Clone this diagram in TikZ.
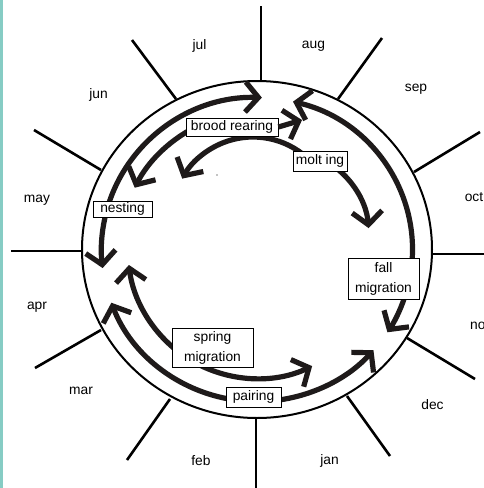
\documentclass[tikz,border=0pt]{standalone}
\usepackage{fontspec}
\setmainfont{Liberation Sans}
\usetikzlibrary{arrows.meta}
\definecolor{tealline}{RGB}{134,204,196}
\definecolor{ink}{RGB}{30,26,26}
\begin{document}
\begin{tikzpicture}[x=1pt,y=-1pt,
  spoke/.style={line width=2.6pt},
  arr/.style={draw=ink, line width=5.2pt, -{Straight Barb[length=13pt,width=30pt]}},
  lbl/.style={draw, line width=0.8pt, fill=white, inner sep=0pt, align=center,
    font=\fontsize{13.8}{20}\selectfont},
  month/.style={inner sep=0pt, font=\fontsize{13.8}{16}\selectfont}]
\useasboundingbox (0,0) rectangle (484,488);
\fill[tealline] (0,0) rectangle (2.6,488);
\coordinate (R) at (257,249.5);
\coordinate (Cc) at (253,218);
\coordinate (Cd) at (282,236);
% outer ring
\draw[line width=2pt] (R) ellipse [x radius=175, y radius=168.5];
% spokes
\draw[spoke] (261,6) -- (261,81);
\draw[spoke] (382,38) -- (338,99);
\draw[spoke] (480,132) -- (414,172);
\draw[spoke] (486,254) -- (432,254);
\draw[spoke] (475,379) -- (407,338);
\draw[spoke] (390,456) -- (347,396);
\draw[spoke] (256,490) -- (256,418);
\draw[spoke] (127,460) -- (170,399);
\draw[spoke] (35,368) -- (101,330);
\draw[spoke] (11,251) -- (82,251);
\draw[spoke] (34,130) -- (101,170);
\draw[spoke] (132,40) -- (176,99);
% arrows on the main ring
\draw[arr] ([shift={(-164:155.5 and 152)}]R) arc[start angle=-164, end angle=-88.2, x radius=155.5, y radius=152];
\draw[arr] ([shift={(-165:155.5 and 152)}]R) arc[start angle=-165, end angle=-187, x radius=155.5, y radius=152];
\draw[arr] ([shift={(5:155.5 and 152)}]R) arc[start angle=5, end angle=-76.6, x radius=155.5, y radius=152];
\draw[arr] ([shift={(16:155.5 and 152)}]R) arc[start angle=16, end angle=33, x radius=155.5, y radius=152];
\draw[arr] ([shift={(84:155.5 and 152)}]R) arc[start angle=84, end angle=41.5, x radius=155.5, y radius=152];
\draw[arr] ([shift={(-261:155.5 and 152)}]R) arc[start angle=-261, end angle=-200.5, x radius=155.5, y radius=152];
% inner arrows
\draw[arr] ([shift={(-243:129 and 129)}]R) arc[start angle=-243, end angle=-295.3, radius=129];
\draw[arr] ([shift={(-231:129 and 129)}]R) arc[start angle=-231, end angle=-186.9, radius=129];
\draw[arr] ([shift={(-118:137 and 137)}]R) arc[start angle=-118, end angle=-153.2, radius=137];
\draw[arr] ([shift={(-52:81 and 81)}]Cc) arc[start angle=-52, end angle=-150.9, radius=81];
\draw[arr] ([shift={(-60:87 and 87)}]Cd) arc[start angle=-60, end angle=-5.2, radius=87];
% speck
\fill (217,175) circle[radius=0.7];
% boxes
\node[lbl, minimum width=92pt, minimum height=18pt] (brood) at (232,127) {brood rearing};
\node[lbl, minimum width=54pt, minimum height=20pt] (molt) at (320,161) {molt ing};
\node[lbl, minimum width=71pt, minimum height=41pt] (fall) at (383.5,278.5) {fall\\migration};
\node[lbl, minimum width=59pt, minimum height=16pt] (nest) at (122.5,209) {nesting};
\node[lbl, minimum width=81pt, minimum height=39pt] (spring) at (212.5,347.5) {spring\\migration};
\node[lbl, minimum width=55pt, minimum height=20pt] (pair) at (253.5,397) {pairing};
\coordinate (tipL) at (302,120);
\draw[arr] (brood.east) -- (tipL);
% months
\node[month] (jul) at (199.5,46) {jul};
\node[month] (aug) at (313.5,46.5) {aug};
\node[month] (sep) at (416,89) {sep};
\node[month] (oct) at (474,197) {oct};
\node[month, anchor=west] (nov) at (470,325.5) {nov};
\node[month] (dec) at (432.5,405) {dec};
\node[month] (jan) at (329.5,461) {jan};
\node[month] (feb) at (201,461) {feb};
\node[month] (mar) at (81,391) {mar};
\node[month] (apr) at (37,307) {apr};
\node[month] (may) at (37,200) {may};
\node[month] (jun) at (98.5,94.5) {jun};
\end{tikzpicture}
\end{document}
